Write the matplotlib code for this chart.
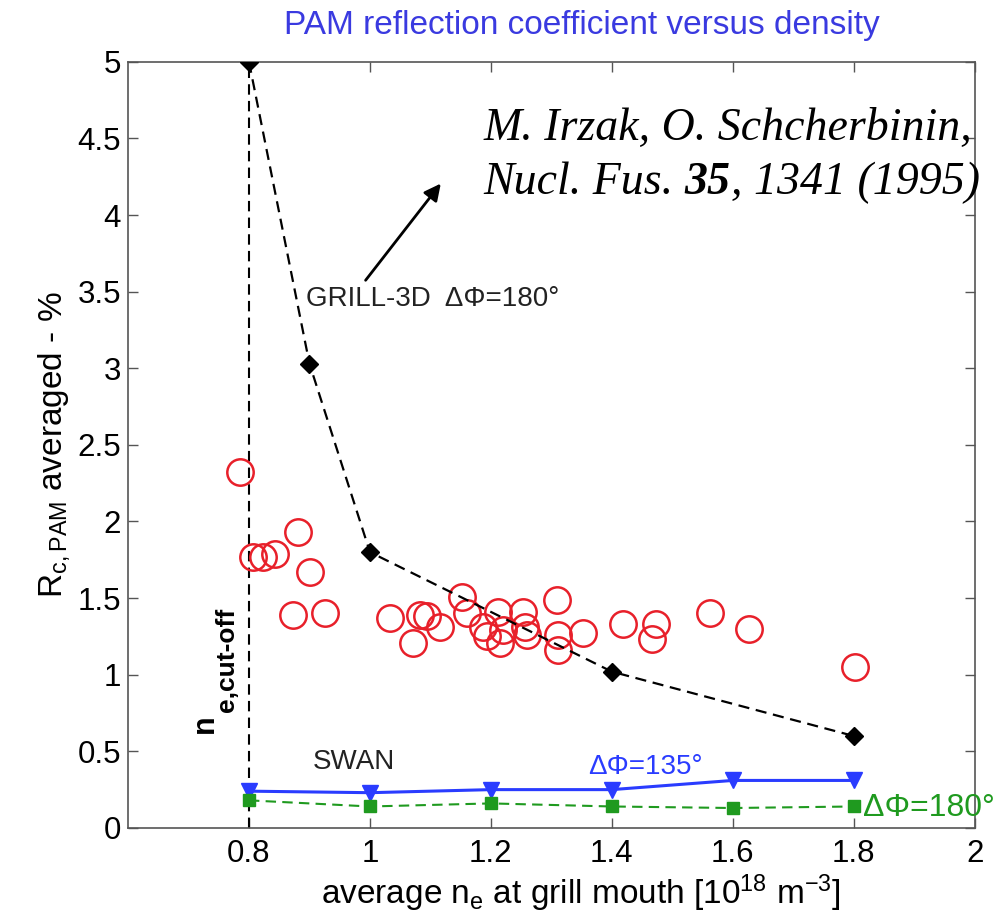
import matplotlib
matplotlib.use("Agg")
import matplotlib.pyplot as plt

# GRILL-3D code, dphi = 180 deg
grill_x = [0.8, 0.9, 1.0, 1.4, 1.8]
grill_y = [5.0, 3.03, 1.8, 1.02, 0.6]

# SWAN code, dphi = 135 deg and 180 deg
swan_x = [0.8, 1.0, 1.2, 1.4, 1.6, 1.8]
swan135_y = [0.24, 0.23, 0.25, 0.25, 0.31, 0.31]
swan180_y = [0.18, 0.14, 0.16, 0.14, 0.13, 0.14]

# measured points
meas_x = [0.785, 0.807, 0.823, 0.843, 0.881, 0.901, 0.873, 0.926,
          1.033, 1.071, 1.083, 1.094, 1.116, 1.152, 1.160, 1.187,
          1.193, 1.212, 1.215, 1.220, 1.253, 1.256, 1.260, 1.309,
          1.311, 1.311, 1.352, 1.418, 1.473, 1.466, 1.562, 1.627, 1.802]
meas_y = [2.32, 1.77, 1.77, 1.79, 1.93, 1.67, 1.39, 1.40,
          1.37, 1.21, 1.39, 1.38, 1.31, 1.51, 1.40, 1.31,
          1.25, 1.41, 1.21, 1.29, 1.41, 1.31, 1.26, 1.49,
          1.26, 1.16, 1.27, 1.33, 1.33, 1.23, 1.40, 1.30, 1.05]

# cut-off density marker
cutoff_x = [0.8, 0.8]
cutoff_y = [0.0, 5.0]

xticks = [0.8, 1.0, 1.2, 1.4, 1.6, 1.8, 2.0]
xticklabels = ["0.8", "1", "1.2", "1.4", "1.6", "1.8", "2"]
yticks = [0, 0.5, 1, 1.5, 2, 2.5, 3, 3.5, 4, 4.5, 5]
yticklabels = ["0", "0.5", "1", "1.5", "2", "2.5", "3", "3.5", "4", "4.5", "5"]

plt.rcParams["font.family"] = ["Liberation Sans", "DejaVu Sans"]
plt.rcParams["mathtext.fontset"] = "custom"
plt.rcParams["mathtext.rm"] = "Liberation Sans"
plt.rcParams["mathtext.it"] = "Liberation Sans:italic"
plt.rcParams["mathtext.bf"] = "Liberation Sans:bold"

C_AX = "#555555"
C_RED = "#e8202a"
C_BLUE = "#2a3cff"
C_GREEN = "#1f9a1f"
C_TITLE = "#3a3ae0"

fig = plt.figure(figsize=(10.08, 9.23), dpi=100)
ax = fig.add_axes([0.127, 0.103, 0.840, 0.830])

ax.plot(cutoff_x, cutoff_y, color="black", ls=(0, (5, 3)), lw=1.5, zorder=2)
ax.plot(grill_x, grill_y, color="black", ls=(0, (5, 3)), lw=1.6,
        marker="D", ms=9, mfc="black", mec="black", zorder=4)
ax.plot(meas_x, meas_y, ls="none", marker="o", ms=19, mfc="none",
        mec=C_RED, mew=1.8, zorder=3)
ax.plot(swan_x, swan135_y, color=C_BLUE, ls="-", lw=2.2, marker="v",
        ms=12, mfc=C_BLUE, mec=C_BLUE, zorder=4)
ax.plot(swan_x, swan180_y, color=C_GREEN, ls=(0, (5, 3)), lw=1.5, marker="s",
        ms=9, mfc=C_GREEN, mec=C_GREEN, zorder=4)

ax.set_xlim(0.6, 2.0)
ax.set_ylim(0, 5)
ax.set_xticks(xticks)
ax.set_xticklabels(xticklabels)
ax.set_yticks(yticks)
ax.set_yticklabels(yticklabels)
ax.tick_params(direction="in", top=True, right=True, length=7, width=1,
               color=C_AX, labelsize=22.5)
ax.tick_params(axis="y", pad=5)
ax.tick_params(axis="x", pad=8)
for s in ax.spines.values():
    s.set_color(C_AX)
    s.set_linewidth(1.2)

ax.set_xlabel(r"average n$_{\rm e}$ at grill mouth [10$^{18}$ m$^{-3}$]",
              fontsize=24)
ax.xaxis.set_label_coords(0.535, -0.058)
ax.set_ylabel(r"R$_{\rm c,PAM}$ averaged - %", fontsize=24, labelpad=4)
ax.set_title("PAM reflection coefficient versus density", color=C_TITLE,
             fontsize=24, pad=20, x=0.536)

# reference annotation
serif = ["Liberation Serif", "DejaVu Serif"]
ax.text(1.187, 4.49, "M. Irzak, O. Schcherbinin,", fontsize=33,
        style="italic", family=serif, ha="left", va="baseline")
t1 = ax.text(1.187, 4.14, "Nucl. Fus. ", fontsize=33, style="italic",
             family=serif, ha="left", va="baseline")
t2 = ax.annotate("35", xy=(1, 0), xycoords=t1, fontsize=33, style="italic",
                 weight="bold", family=serif, ha="left", va="bottom")
ax.annotate(", 1341 (1995)", xy=(1, 0), xycoords=t2, fontsize=33,
            style="italic", family=serif, ha="left", va="bottom")
ax.annotate("", xy=(1.12, 4.22), xytext=(0.99, 3.56),
            arrowprops=dict(arrowstyle="-|>", color="black", lw=2,
                            mutation_scale=25))

ax.text(0.895, 3.45, "GRILL-3D  \u0394\u03a6=180\u00b0", fontsize=20,
        color="#222222", ha="left", va="center")
ax.text(0.905, 0.43, "SWAN", fontsize=20, color="#222222", ha="left",
        va="center")
ax.text(1.36, 0.40, "\u0394\u03a6=135\u00b0", fontsize=20, color=C_BLUE,
        ha="left", va="center")
ax.text(1.816, 0.13, "\u0394\u03a6=180\u00b0", fontsize=23, color=C_GREEN,
        ha="left", va="center", clip_on=False)

# n_e,cut-off label, rotated
ax.text(0.727, 0.68, "n", fontsize=22, weight="bold", rotation=90,
        ha="center", va="center")
ax.text(0.763, 1.10, "e,cut-off", fontsize=19, weight="bold", rotation=90,
        ha="center", va="center")

fig.savefig("out.png", dpi=100)
